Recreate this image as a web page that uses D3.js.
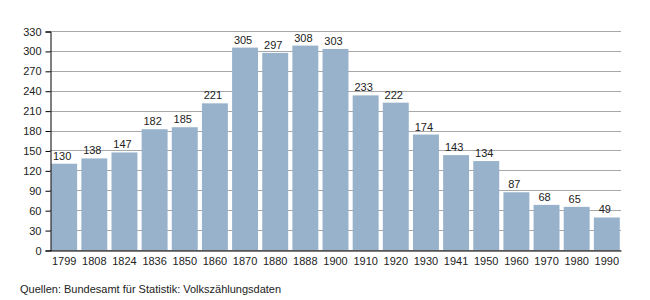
<!DOCTYPE html>
<meta charset="utf-8">
<html>
<head>
<script src="https://d3js.org/d3.v7.min.js"></script>
<style>
  body { margin: 0; background: #fff; }
  text { font-family: "Liberation Sans", Arial, sans-serif; fill: #222; }
</style>
</head>
<body>
<div id="viz"></div>
<script>
  // census years and population counts
  let years = ['1799','1808','1824','1836','1850','1860','1870','1880','1888','1900',
               '1910','1920','1930','1941','1950','1960','1970','1980','1990'];
  let values = [130, 138, 147, 182, 185, 221, 305, 297, 308, 303,
                233, 222, 174, 143, 134, 87, 68, 65, 49];
  let yTicks = [0, 30, 60, 90, 120, 150, 180, 210, 240, 270, 300, 330];
  let source = 'Quellen: Bundesamt für Statistik: Volkszählungsdaten';

  let width = 650, height = 300;
  let margin = {top: 31, right: 29, bottom: 50, left: 50};

  let svg = d3.select('#viz').append('svg')
    .attr('width', width)
    .attr('height', height);

  let x = d3.scaleBand()
    .domain(years)
    .range([margin.left, width - margin.right])
    .paddingInner(0.14)
    .paddingOuter(0.04);

  let y = d3.scaleLinear()
    .domain([0, 330])
    .range([height - margin.bottom, margin.top]);

  // gridlines
  svg.append('g')
    .selectAll('line')
    .data(yTicks)
    .join('line')
    .attr('x1', margin.left)
    .attr('x2', width - margin.right)
    .attr('y1', d => Math.round(y(d)) + 0.5)
    .attr('y2', d => Math.round(y(d)) + 0.5)
    .attr('stroke', '#a8a8a8')
    .attr('stroke-width', 1);

  // bars
  svg.append('g')
    .selectAll('rect')
    .data(values)
    .join('rect')
    .attr('x', (d, i) => x(years[i]))
    .attr('y', d => y(d))
    .attr('width', x.bandwidth())
    .attr('height', d => y(0) - y(d))
    .attr('fill', '#98b2cc');

  // value labels
  svg.append('g')
    .selectAll('text')
    .data(values)
    .join('text')
    .attr('x', (d, i) => x(years[i]) + x.bandwidth() / 2 - 2)
    .attr('y', d => y(d) - 4)
    .attr('text-anchor', 'middle')
    .style('font-size', '11px')
    .text(d => d);

  // y axis
  let yAxis = svg.append('g')
    .attr('transform', `translate(${margin.left + 0.5},0.5)`)
    .call(d3.axisLeft(y).tickValues(yTicks).tickSize(5).tickPadding(4));
  yAxis.select('.domain').attr('stroke', '#000');
  yAxis.selectAll('.tick line').attr('stroke', '#000');
  yAxis.selectAll('text').style('font-size', '11px').attr('fill', '#222')
    .style('font-family', '"Liberation Sans", Arial, sans-serif');

  // x axis
  let xAxis = svg.append('g')
    .attr('transform', `translate(0,${Math.round(y(0)) + 0.5})`)
    .call(d3.axisBottom(x).tickSize(0).tickPadding(7));
  xAxis.select('.domain').attr('stroke', '#000').attr('stroke-width', 1.2);
  xAxis.selectAll('text').style('font-size', '11px').attr('fill', '#222')
    .style('font-family', '"Liberation Sans", Arial, sans-serif');

  svg.append('text')
    .attr('x', 20)
    .attr('y', 293)
    .style('font-size', '11px')
    .text(source);
</script>
</body>
</html>
